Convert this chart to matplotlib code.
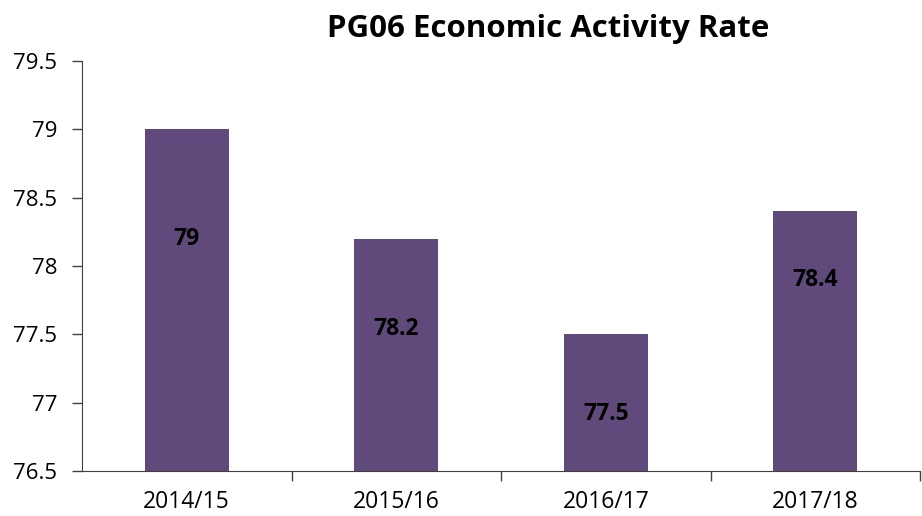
import matplotlib
matplotlib.use('Agg')
import matplotlib.pyplot as plt
from matplotlib.ticker import FixedLocator, NullFormatter

years = ['2014/15', '2015/16', '2016/17', '2017/18']
rates = [79, 78.2, 77.5, 78.4]
label_y = [78.2, 77.54, 76.92, 77.9]
yticks = [76.5, 77, 77.5, 78, 78.5, 79, 79.5]

plt.rcParams['font.family'] = ['Open Sans', 'DejaVu Sans']

fig = plt.figure(figsize=(9.22, 5.16), dpi=100)
ax = fig.add_axes([82 / 922, 45 / 516, 838 / 922, 410 / 516])

x = range(len(years))
ax.bar(x, [r - 76.5 for r in rates], bottom=76.5, width=0.4, color='#604a7b')
for xi, r, ly in zip(x, rates, label_y):
    ax.text(xi, ly, '{:g}'.format(r), ha='center', va='center',
            fontsize=16.5, fontweight='bold', color='black')

ax.set_xlim(-0.5, len(years) - 0.5)
ax.set_ylim(76.5, 79.5)
ax.set_yticks(yticks)
ax.set_yticklabels(['{:g}'.format(t) for t in yticks])
ax.set_xticks(list(x))
ax.set_xticklabels(years)
ax.xaxis.set_minor_locator(FixedLocator([i + 0.5 for i in range(len(years))]))
ax.xaxis.set_minor_formatter(NullFormatter())
ax.tick_params(axis='x', which='major', length=0, pad=14, labelsize=16.5)
ax.tick_params(axis='x', which='minor', length=7, width=1, color='#404040')
ax.tick_params(axis='y', length=7, width=1, color='#404040', pad=11, labelsize=16)

for side in ('top', 'right'):
    ax.spines[side].set_visible(False)
for side in ('left', 'bottom'):
    ax.spines[side].set_color('#404040')

fig.text(548 / 922, 487 / 516, 'PG06 Economic Activity Rate', ha='center',
         va='center', fontsize=22.5, fontweight='bold')

fig.savefig('out.png', dpi=100)
